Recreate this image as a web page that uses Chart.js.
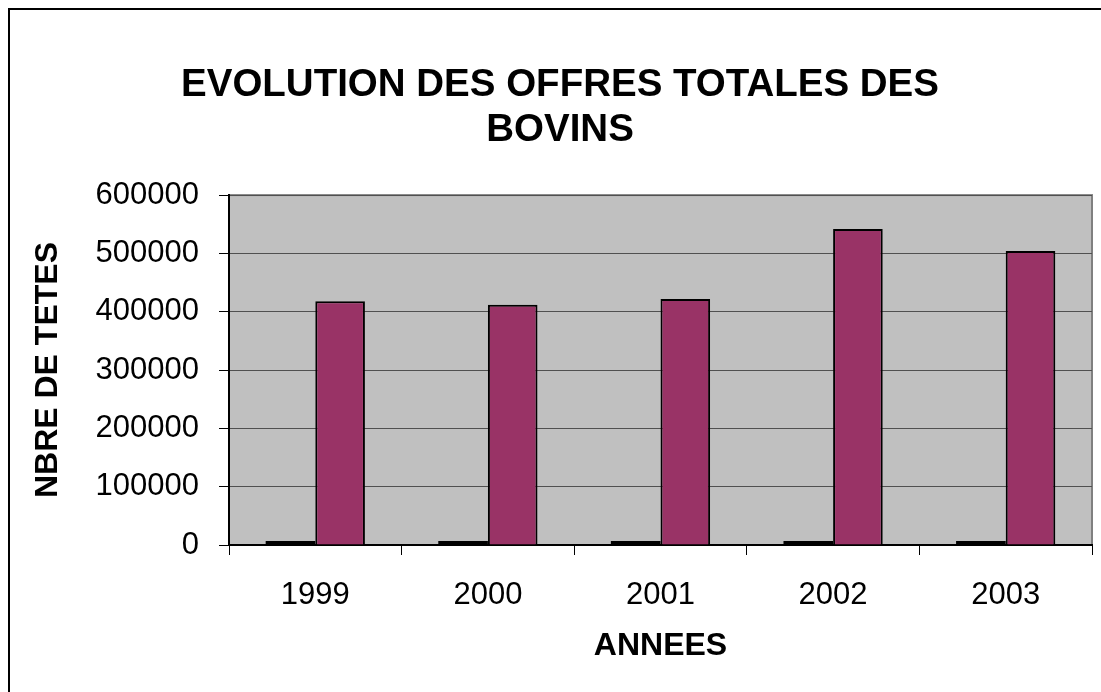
<!DOCTYPE html>
<html>
<head>
<meta charset="utf-8">
<script src="https://cdn.jsdelivr.net/npm/chart.js@4.4.0/dist/chart.umd.min.js"></script>
<style>
  body { margin: 0; background: #fff; }
  #wrap { width: 1101px; height: 692px; }
</style>
</head>
<body>
<div id="wrap"><canvas id="bovinsChart" width="1101" height="692"></canvas></div>
<script>
// data
var years = ['1999', '2000', '2001', '2002', '2003'];
var serieAnnee = [1999, 2000, 2001, 2002, 2003];        // tiny bars (values = year)
var offresTotales = [418000, 412000, 422000, 542000, 504000];
var yTicks = [0, 100000, 200000, 300000, 400000, 500000, 600000];

var FONT = 'Arial, "Liberation Sans", sans-serif';

// grey plot background + outer frame
var fondPlugin = {
    id: 'fond',
    beforeDraw: function (chart) {
        var c = chart.ctx, a = chart.chartArea;
        c.save();
        c.fillStyle = '#c0c0c0';
        c.fillRect(a.left, a.top, a.right - a.left, a.bottom - a.top);
        c.strokeStyle = '#808080';
        c.lineWidth = 2;
        c.strokeRect(a.left, a.top, a.right - a.left, a.bottom - a.top);
        // outer frame
        c.strokeStyle = '#000';
        c.lineWidth = 2;
        c.strokeRect(9, 9, 1101, 692);
        c.restore();
    }
};

var ctx = document.getElementById('bovinsChart');

var chart = new Chart(ctx, {
    type: 'bar',
    data: {
        labels: years,
        datasets: [
            {
                label: 'ANNEES',
                data: serieAnnee,
                backgroundColor: '#000',
                borderColor: '#000',
                borderWidth: 0,
                minBarLength: 4,
                categoryPercentage: 0.575,
                barPercentage: 1.0
            },
            {
                label: 'OFFRES TOTALES',
                data: offresTotales,
                backgroundColor: '#993366',
                borderColor: '#000',
                borderWidth: 2,
                categoryPercentage: 0.575,
                barPercentage: 1.0
            }
        ]
    },
    options: {
        responsive: false,
        animation: false,
        layout: { padding: { left: 28, right: 9, top: 0, bottom: 0 } },
        plugins: {
            legend: { display: false },
            tooltip: { enabled: false },
            title: {
                display: true,
                text: ['EVOLUTION DES OFFRES TOTALES DES', 'BOVINS'],
                color: '#000',
                font: { family: FONT, size: 38.5, weight: 'bold', lineHeight: 1.17 },
                padding: { top: 63, bottom: 42 }
            }
        },
        scales: {
            x: {
                offset: true,
                grid: {
                    offset: true,
                    drawOnChartArea: false,
                    drawTicks: true,
                    tickLength: 10,
                    color: '#000',
                    tickColor: '#000'
                },
                border: { display: true, color: '#000', width: 2 },
                ticks: {
                    color: '#000',
                    padding: 22,
                    font: { family: FONT, size: 31 }
                },
                title: {
                    display: true,
                    text: 'ANNEES',
                    color: '#000',
                    font: { family: FONT, size: 32, weight: 'bold', lineHeight: 1.2 },
                    padding: { top: 0, bottom: 27 }
                },
                afterFit: function (scale) { scale.height = 147; }
            },
            y: {
                min: 0,
                max: 600000,
                afterBuildTicks: function (scale) {
                    scale.ticks = yTicks.map(function (v) { return { value: v }; });
                },
                grid: {
                    color: '#505050',
                    lineWidth: 1,
                    drawTicks: true,
                    tickLength: 10,
                    tickColor: '#000'
                },
                border: { display: true, color: '#000', width: 2 },
                ticks: {
                    color: '#000',
                    padding: 20,
                    font: { family: FONT, size: 31 },
                    callback: function (v) { return String(v); }
                },
                title: {
                    display: true,
                    text: 'NBRE DE TETES',
                    color: '#000',
                    font: { family: FONT, size: 32, weight: 'bold', lineHeight: 1.2 },
                    padding: { top: 1, bottom: 0 }
                },
                afterFit: function (scale) { scale.width = 201; }
            }
        }
    },
    plugins: [fondPlugin]
});
</script>
</body>
</html>
